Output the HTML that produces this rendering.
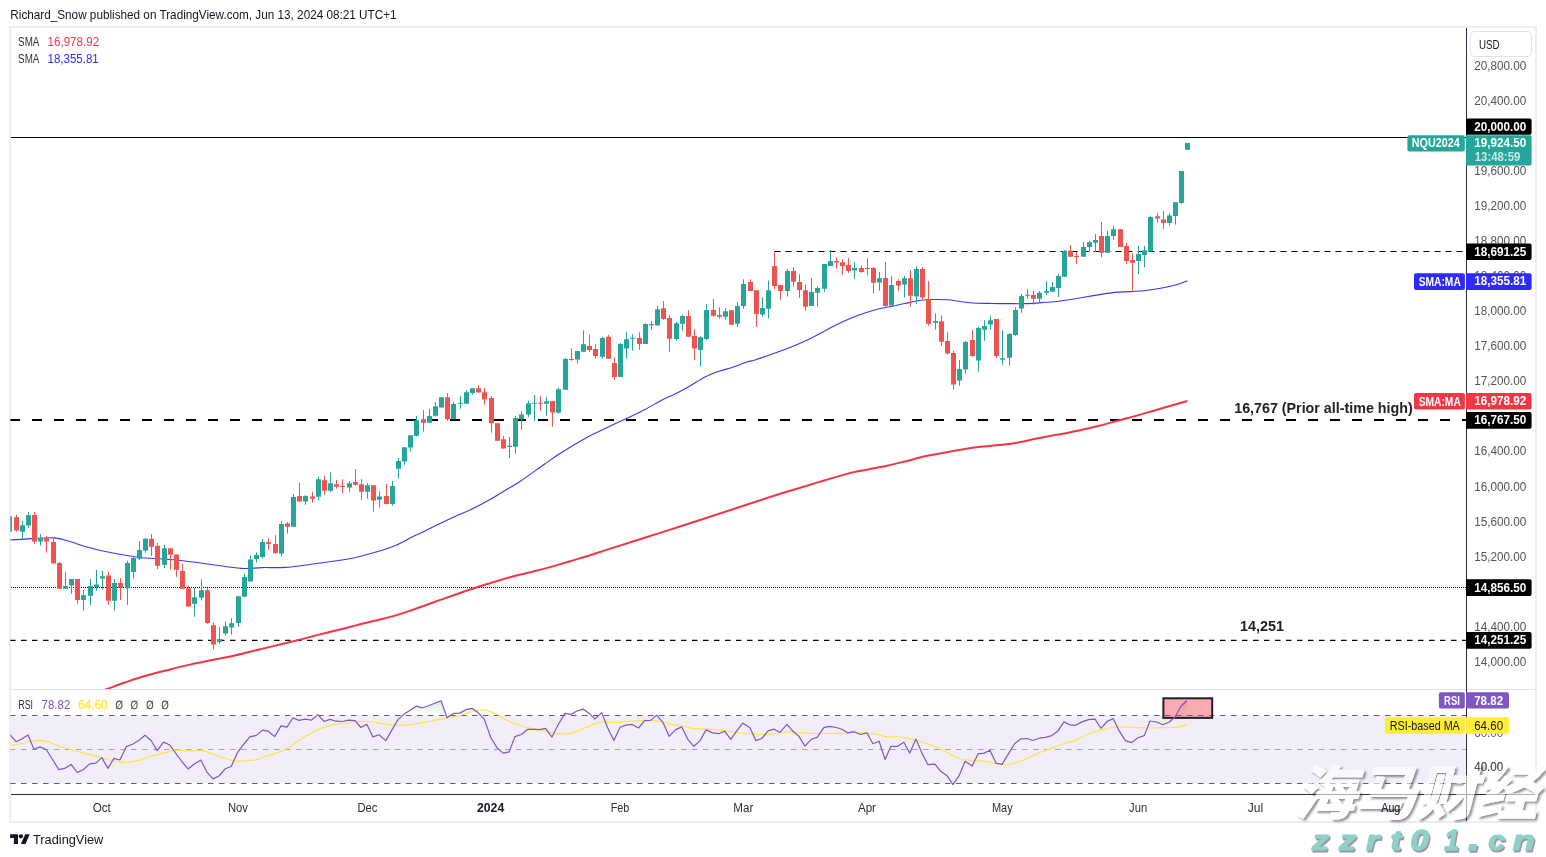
<!DOCTYPE html>
<html><head><meta charset="utf-8"><title>NQ chart</title>
<style>html,body{margin:0;padding:0;background:#fff;}body{width:1546px;height:857px;overflow:hidden;font-family:"Liberation Sans",sans-serif;}</style>
</head><body>
<svg width="1546" height="857" viewBox="0 0 1546 857" font-family="Liberation Sans, sans-serif" style="display:block;will-change:transform;transform:translateZ(0)">
<defs>
<clipPath id="cm"><rect x="10.4" y="28" width="1455.6" height="661"/></clipPath>
<clipPath id="cr"><rect x="10.4" y="690" width="1455.6" height="104"/></clipPath>
<clipPath id="ca"><rect x="1466" y="28" width="69" height="793"/></clipPath>
<linearGradient id="gg" gradientUnits="userSpaceOnUse" x1="0" y1="697" x2="0" y2="715.5"><stop offset="0" stop-color="#4caf50" stop-opacity="0.3"/><stop offset="1" stop-color="#4caf50" stop-opacity="0"/></linearGradient>
<filter id="ws" x="-5%" y="-10%" width="110%" height="120%"><feOffset in="SourceAlpha" dx="1.7" dy="1.7" result="o0"/><feGaussianBlur in="o0" stdDeviation="0.8" result="o"/><feComposite in="o" in2="SourceAlpha" operator="out" result="so"/><feFlood flood-color="#20222b" flood-opacity="0.5"/><feComposite in2="so" operator="in" result="sh"/><feComponentTransfer in="SourceGraphic" result="sg"><feFuncA type="linear" slope="0.6"/></feComponentTransfer><feMerge><feMergeNode in="sh"/><feMergeNode in="sg"/></feMerge></filter>
</defs>
<rect width="1546" height="857" fill="#fff"/>
<text x="10.3" y="18.9" font-size="13" fill="#131722" font-weight="normal" text-anchor="start" textLength="386.3" lengthAdjust="spacingAndGlyphs" >Richard_Snow published on TradingView.com, Jun 13, 2024 08:21 UTC+1</text>
<rect x="10" y="27" width="1526" height="795" fill="#fff" stroke="#eceef4" stroke-width="2"/>
<rect x="11" y="715.4" width="1454.5" height="67.9" fill="#7e57c2" fill-opacity="0.1"/>
<g clip-path="url(#cm)">
<line x1="11" y1="137.5" x2="1466" y2="137.5" stroke="#000" stroke-width="1.2"/>
<line x1="774.5" y1="251.5" x2="1466" y2="251.5" stroke="#000" stroke-width="1" stroke-dasharray="6 5"/>
<line x1="10" y1="420" x2="1466" y2="420" stroke="#000" stroke-width="2.2" stroke-dasharray="10 12"/>
<line x1="11" y1="587.5" x2="1466" y2="587.5" stroke="#000" stroke-width="1" stroke-dasharray="1 1"/>
<line x1="10" y1="640.4" x2="1466" y2="640.4" stroke="#000" stroke-width="1.2" stroke-dasharray="5.5 5.5"/>
<path d="M8.0 540.1C11.8 539.9 23.3 539.0 31.0 538.6C38.7 538.2 47.5 537.4 54.0 537.9C60.5 538.4 64.8 540.1 70.0 541.5C75.2 542.9 79.3 544.9 85.0 546.5C90.7 548.1 97.5 549.9 104.0 551.3C110.5 552.7 118.0 554.0 124.0 555.0C130.0 556.0 133.5 556.8 140.0 557.5C146.5 558.2 155.8 558.5 163.0 559.0C170.2 559.5 176.5 560.0 183.0 560.7C189.5 561.4 195.0 562.2 202.0 563.2C209.0 564.2 218.0 565.6 225.0 566.5C232.0 567.4 237.8 568.3 244.0 568.5C250.2 568.7 255.2 567.8 262.0 567.6C268.8 567.4 276.2 568.0 285.0 567.4C293.8 566.8 305.8 565.0 315.0 563.8C324.2 562.6 333.0 561.4 340.0 560.3C347.0 559.2 350.0 558.9 357.0 557.2C364.0 555.5 375.5 552.3 382.0 550.3C388.5 548.3 391.2 547.4 396.0 545.3C400.8 543.2 406.2 539.9 411.0 537.5C415.8 535.1 420.2 533.3 425.0 531.0C429.8 528.7 434.8 526.0 440.0 523.5C445.2 521.0 450.3 518.6 456.0 516.0C461.7 513.4 468.3 510.8 474.0 508.0C479.7 505.2 484.8 502.4 490.0 499.5C495.2 496.6 500.0 493.5 505.0 490.5C510.0 487.5 513.5 485.8 520.0 481.5C526.5 477.2 537.3 469.2 544.0 464.5C550.7 459.8 553.2 457.8 560.0 453.5C566.8 449.2 578.3 442.2 585.0 438.5C591.7 434.8 593.0 434.4 600.0 431.0C607.0 427.6 619.5 421.8 627.0 418.2C634.5 414.6 639.2 412.5 645.0 409.5C650.8 406.5 657.0 402.6 662.0 400.0C667.0 397.4 670.3 396.3 675.0 394.0C679.7 391.7 685.0 388.8 690.0 386.0C695.0 383.2 700.0 379.5 705.0 377.0C710.0 374.5 715.5 372.6 720.0 371.0C724.5 369.4 727.5 369.0 732.0 367.5C736.5 366.0 743.2 363.2 747.0 362.0C750.8 360.8 750.3 361.5 755.0 360.0C759.7 358.5 769.2 355.1 775.0 353.0C780.8 350.9 784.0 350.0 790.0 347.5C796.0 345.0 803.8 341.7 811.0 338.2C818.2 334.7 826.5 329.8 833.0 326.5C839.5 323.2 844.7 320.8 850.0 318.5C855.3 316.2 860.0 314.7 865.0 313.0C870.0 311.3 875.7 309.6 880.0 308.5C884.3 307.4 886.8 307.3 891.0 306.5C895.2 305.7 900.0 304.5 905.0 303.5C910.0 302.5 916.0 301.0 921.0 300.3C926.0 299.6 930.5 299.6 935.0 299.5C939.5 299.4 943.8 299.5 948.0 299.8C952.2 300.1 956.0 301.0 960.0 301.5C964.0 302.0 967.0 302.7 972.0 303.0C977.0 303.3 984.2 303.3 990.0 303.4C995.8 303.5 1001.0 303.6 1007.0 303.6C1013.0 303.6 1019.7 303.8 1026.0 303.6C1032.3 303.4 1039.8 302.7 1045.0 302.3C1050.2 301.9 1052.5 302.0 1057.0 301.5C1061.5 301.0 1067.3 300.1 1072.0 299.3C1076.7 298.6 1080.3 297.8 1085.0 297.0C1089.7 296.2 1095.0 295.4 1100.0 294.6C1105.0 293.8 1110.0 292.9 1115.0 292.4C1120.0 291.9 1125.2 291.9 1130.0 291.6C1134.8 291.3 1139.7 291.2 1144.0 290.8C1148.3 290.4 1152.2 289.6 1156.0 289.0C1159.8 288.4 1163.3 287.8 1167.0 287.0C1170.7 286.2 1174.6 285.2 1178.0 284.2C1181.4 283.2 1185.9 281.4 1187.5 280.8" stroke="#3a36ff" stroke-width="1.1" fill="none" stroke-linejoin="round"/>
<path d="M100.0 691.5C101.2 691.1 102.8 690.5 107.0 689.0C111.2 687.5 118.8 684.6 125.0 682.5C131.2 680.4 137.3 678.3 144.0 676.3C150.7 674.3 157.3 672.7 165.0 670.7C172.7 668.8 181.7 666.5 190.0 664.6C198.3 662.7 207.2 661.0 215.0 659.4C222.8 657.8 229.5 656.7 237.0 655.0C244.5 653.3 252.8 651.0 260.0 649.3C267.2 647.5 273.3 646.1 280.0 644.5C286.7 642.9 293.7 641.2 300.0 639.6C306.3 638.0 311.3 636.6 318.0 634.9C324.7 633.2 333.5 631.1 340.0 629.5C346.5 627.9 350.7 626.7 357.0 625.1C363.3 623.5 371.5 621.6 378.0 620.0C384.5 618.4 389.8 617.2 396.0 615.4C402.2 613.6 408.5 611.3 415.0 609.0C421.5 606.7 428.3 604.2 435.0 601.8C441.7 599.4 448.5 597.0 455.0 594.7C461.5 592.4 467.7 590.3 474.0 588.2C480.3 586.1 486.7 584.2 493.0 582.3C499.3 580.4 505.5 578.5 512.0 576.7C518.5 575.0 525.5 573.4 532.0 571.8C538.5 570.2 544.7 568.6 551.0 566.9C557.3 565.1 563.5 563.2 570.0 561.3C576.5 559.3 583.7 557.2 590.0 555.2C596.3 553.2 599.7 552.1 608.0 549.4C616.3 546.7 628.0 543.0 640.0 539.2C652.0 535.4 666.7 530.8 680.0 526.5C693.3 522.2 706.5 517.9 720.0 513.5C733.5 509.1 750.8 503.3 761.0 500.0C771.2 496.7 774.2 495.6 781.0 493.5C787.8 491.4 794.7 489.4 802.0 487.2C809.3 485.0 817.3 482.5 825.0 480.2C832.7 477.9 840.8 475.4 848.0 473.6C855.2 471.8 861.5 470.8 868.0 469.5C874.5 468.2 880.7 467.2 887.0 465.8C893.3 464.4 899.5 462.8 906.0 461.2C912.5 459.6 919.2 457.6 926.0 456.1C932.8 454.6 940.0 453.5 947.0 452.2C954.0 450.9 960.8 449.4 968.0 448.4C975.2 447.3 982.8 446.7 990.0 445.9C997.2 445.1 1004.5 444.6 1011.0 443.7C1017.5 442.8 1023.2 441.5 1029.0 440.3C1034.8 439.1 1040.2 437.8 1046.0 436.7C1051.8 435.6 1058.2 434.6 1064.0 433.5C1069.8 432.4 1075.2 431.4 1081.0 430.1C1086.8 428.8 1093.2 427.3 1099.0 425.8C1104.8 424.3 1110.2 422.8 1116.0 421.2C1121.8 419.6 1128.2 418.0 1134.0 416.4C1139.8 414.8 1145.2 413.2 1151.0 411.5C1156.8 409.8 1162.9 408.1 1169.0 406.3C1175.1 404.6 1184.4 401.9 1187.5 401.0" stroke="#f23645" stroke-width="2" fill="none" stroke-linejoin="round"/>
<path d="M9.5 516.2V531.7M22.5 520.9V538.8M28.5 512.1V528.0M40.5 534.0V545.7M65.5 571.9V588.7M71.5 579.0V593.9M83.5 590.0V610.7M90.5 579.0V605.1M96.5 570.0V590.9M102.5 570.9V589.6M114.5 579.0V610.7M127.5 560.7V604.9M133.5 556.0V578.8M139.5 541.1V560.1M145.5 537.9V552.8M164.5 544.8V568.1M194.5 588.3V616.7M201.5 579.4V600.5M219.5 627.2V643.8M225.5 621.4V635.6M231.5 618.2V634.6M238.5 596.2V626.6M244.5 573.4V596.8M250.5 555.3V581.4M256.5 552.3V562.6M262.5 539.2V558.5M281.5 521.1V556.6M293.5 494.2V526.7M305.5 495.1V504.8M318.5 476.8V500.5M330.5 472.1V492.1M349.5 481.1V491.8M367.5 483.0V498.7M379.5 491.2V507.6M392.5 481.1V505.8M398.5 458.1V478.7M404.5 447.3V464.7M410.5 435.2V451.6M416.5 416.1V436.7M429.5 409.0V422.7M435.5 402.1V416.7M441.5 397.2V407.5M453.5 401.9V419.2M460.5 395.9V408.8M466.5 390.1V403.7M472.5 388.2V394.8M509.5 437.0V457.9M515.5 415.9V453.8M521.5 411.2V429.9M528.5 400.9V416.8M534.5 395.0V420.9M546.5 396.8V415.9M558.5 387.9V413.6M565.5 358.0V389.7M577.5 351.1V363.6M583.5 330.3V351.8M602.5 336.8V358.7M620.5 343.0V377.0M626.5 332.1V358.7M632.5 334.4V350.8M645.5 323.2V343.9M651.5 320.9V329.7M657.5 306.0V325.6M676.5 321.9V340.9M682.5 315.0V330.7M700.5 335.9V366.7M706.5 304.1V340.0M725.5 308.2V319.6M737.5 302.3V327.0M743.5 279.3V308.7M762.5 297.1V316.7M768.5 280.3V318.6M787.5 269.1V296.7M811.5 278.0V305.9M817.5 286.3V306.8M824.5 264.0V291.9M830.5 250.0V265.9M854.5 262.2V278.8M879.5 272.0V290.6M891.5 276.1V306.9M904.5 276.1V297.5M916.5 266.2V303.7M935.5 313.4V329.7M959.5 360.1V385.9M965.5 341.0V373.7M978.5 327.0V371.7M984.5 320.3V340.9M990.5 316.2V329.7M1002.5 330.2V364.8M1009.5 333.0V365.7M1015.5 307.3V335.8M1021.5 294.2V312.9M1027.5 288.9V298.8M1039.5 291.0V302.6M1046.5 281.1V295.1M1052.5 282.0V291.7M1058.5 274.0V297.0M1064.5 249.9V276.8M1083.5 241.9V256.8M1089.5 240.9V251.8M1095.5 234.0V252.1M1107.5 231.1V252.7M1113.5 225.6V240.0M1138.5 246.0V274.0M1144.5 246.0V267.1M1150.5 215.7V251.6M1169.5 213.1V225.7M1175.5 202.2V224.7M1181.5 171.1V204.0M1187.5 143.1V149.8" stroke="#26a69a" stroke-width="1" fill="none"/>
<path d="M16.5 514.9V531.7M34.5 512.1V543.9M46.5 536.0V552.8M53.5 537.0V563.5M59.5 562.0V588.7M77.5 579.0V604.0M108.5 571.9V604.9M120.5 578.0V599.9M151.5 534.0V556.0M157.5 542.9V569.1M170.5 548.2V569.7M176.5 554.4V576.8M182.5 563.7V588.7M188.5 585.5V606.6M207.5 588.3V623.8M213.5 622.3V649.6M268.5 538.3V549.7M275.5 535.1V553.8M287.5 522.1V533.6M299.5 482.8V501.6M312.5 492.1V502.6M324.5 475.9V494.9M336.5 480.0V488.6M342.5 479.2V493.1M355.5 469.0V485.8M361.5 479.1V499.8M373.5 485.2V511.7M386.5 483.9V504.4M423.5 410.0V431.6M447.5 393.1V420.9M478.5 385.1V392.5M484.5 387.9V404.7M491.5 395.9V432.7M497.5 423.3V440.7M503.5 436.0V448.6M540.5 395.9V410.7M552.5 400.9V426.7M571.5 348.1V360.8M589.5 334.4V351.8M595.5 344.3V358.7M608.5 334.9V358.7M614.5 357.4V379.8M639.5 332.1V349.9M663.5 301.0V320.0M669.5 315.3V351.8M688.5 310.1V336.8M694.5 329.3V359.8M713.5 299.1V316.8M719.5 307.3V318.7M731.5 310.2V324.7M750.5 279.3V290.9M756.5 290.2V327.0M774.5 251.3V289.1M780.5 284.9V299.9M793.5 267.2V286.8M799.5 274.1V298.0M805.5 284.4V310.7M836.5 257.3V268.7M842.5 259.2V274.7M848.5 258.2V272.8M861.5 265.3V272.8M867.5 258.2V275.6M873.5 266.8V293.7M885.5 262.1V306.5M898.5 279.2V290.6M910.5 270.1V306.5M922.5 267.1V299.4M928.5 281.1V325.9M941.5 315.3V345.7M947.5 332.1V354.5M953.5 350.8V389.6M972.5 330.2V356.9M996.5 319.0V357.8M1033.5 291.0V304.8M1070.5 245.1V256.8M1076.5 252.1V263.9M1101.5 221.9V257.2M1120.5 229.2V246.9M1126.5 242.8V263.9M1132.5 253.1V291.0M1157.5 212.8V222.6M1163.5 211.0V228.9" stroke="#ef5350" stroke-width="1" fill="none"/>
<path d="M7.0 516.2h5V531.7h-5zM20.0 525.2h5V531.7h-5zM26.0 515.3h5V525.6h-5zM38.0 538.3h5V541.4h-5zM63.0 585.9h5V588.7h-5zM69.0 579.0h5V585.5h-5zM81.0 595.2h5V599.9h-5zM88.0 585.9h5V595.8h-5zM94.0 584.4h5V587.0h-5zM100.0 576.2h5V578.6h-5zM112.0 583.1h5V600.8h-5zM125.0 563.1h5V588.3h-5zM131.0 557.9h5V571.9h-5zM137.0 550.0h5V558.8h-5zM143.0 538.8h5V550.4h-5zM162.0 548.2h5V564.8h-5zM192.0 597.3h5V603.7h-5zM199.0 590.2h5V597.7h-5zM217.0 639.1h5V642.1h-5zM223.0 626.2h5V633.5h-5zM229.0 623.3h5V627.6h-5zM236.0 596.2h5V622.9h-5zM242.0 577.1h5V596.8h-5zM248.0 559.4h5V581.4h-5zM254.0 555.1h5V558.9h-5zM260.0 542.0h5V557.0h-5zM279.0 523.9h5V553.4h-5zM291.0 497.0h5V526.7h-5zM303.0 496.0h5V501.6h-5zM316.0 479.2h5V496.8h-5zM328.0 483.3h5V490.8h-5zM347.0 483.3h5V487.6h-5zM365.0 485.2h5V491.8h-5zM377.0 496.4h5V499.8h-5zM390.0 486.1h5V503.9h-5zM396.0 460.9h5V468.8h-5zM402.0 447.3h5V461.5h-5zM408.0 435.2h5V447.5h-5zM414.0 420.2h5V435.7h-5zM427.0 416.1h5V422.7h-5zM433.0 406.2h5V415.8h-5zM439.0 397.2h5V407.5h-5zM451.0 404.1h5V419.2h-5zM458.0 402.8h5V403.8h-5zM464.0 392.2h5V403.7h-5zM470.0 388.2h5V392.9h-5zM507.0 445.8h5V446.9h-5zM513.0 418.1h5V446.7h-5zM519.0 414.4h5V419.2h-5zM526.0 403.2h5V414.6h-5zM532.0 402.8h5V403.8h-5zM544.0 401.3h5V403.7h-5zM556.0 389.2h5V412.7h-5zM563.0 358.9h5V389.7h-5zM575.0 351.1h5V359.5h-5zM581.0 344.3h5V351.8h-5zM600.0 338.1h5V356.8h-5zM618.0 343.9h5V377.0h-5zM624.0 339.2h5V348.6h-5zM630.0 337.7h5V338.7h-5zM643.0 324.1h5V343.9h-5zM649.0 324.1h5V325.2h-5zM655.0 309.2h5V325.6h-5zM674.0 323.2h5V339.1h-5zM680.0 315.9h5V323.7h-5zM698.0 337.2h5V349.9h-5zM704.0 310.1h5V339.1h-5zM723.0 311.2h5V316.8h-5zM735.0 306.0h5V323.8h-5zM741.0 284.0h5V306.0h-5zM760.0 307.9h5V314.4h-5zM766.0 290.2h5V308.7h-5zM785.0 270.9h5V290.9h-5zM809.0 292.0h5V305.9h-5zM815.0 288.1h5V292.8h-5zM822.0 264.0h5V288.7h-5zM828.0 261.1h5V265.9h-5zM852.0 268.1h5V270.6h-5zM877.0 278.3h5V282.6h-5zM889.0 285.0h5V305.6h-5zM902.0 278.3h5V284.5h-5zM914.0 269.0h5V296.6h-5zM933.0 320.9h5V322.7h-5zM957.0 369.0h5V380.6h-5zM963.0 342.0h5V369.4h-5zM976.0 328.0h5V360.5h-5zM982.0 326.1h5V329.7h-5zM988.0 320.3h5V324.6h-5zM1000.0 358.2h5V359.7h-5zM1007.0 333.9h5V357.7h-5zM1013.0 310.1h5V334.9h-5zM1019.0 296.1h5V308.4h-5zM1025.0 294.7h5V295.7h-5zM1037.0 292.8h5V298.8h-5zM1044.0 291.0h5V292.8h-5zM1050.0 287.1h5V291.7h-5zM1056.0 276.0h5V288.0h-5zM1062.0 250.8h5V276.8h-5zM1081.0 246.9h5V256.8h-5zM1087.0 242.3h5V246.9h-5zM1093.0 240.0h5V242.8h-5zM1105.0 235.9h5V252.7h-5zM1111.0 229.2h5V235.9h-5zM1136.0 254.0h5V260.9h-5zM1142.0 250.3h5V254.9h-5zM1148.0 217.0h5V251.6h-5zM1167.0 215.5h5V222.9h-5zM1173.0 202.2h5V215.9h-5zM1179.0 171.1h5V202.9h-5zM1185.0 143.1h5V149.8h-5z" fill="#26a69a"/>
<path d="M14.0 517.2h5V530.4h-5zM32.0 514.9h5V541.4h-5zM44.0 538.3h5V541.4h-5zM51.0 542.0h5V563.5h-5zM57.0 563.1h5V588.7h-5zM75.0 579.0h5V599.9h-5zM106.0 575.6h5V600.8h-5zM118.0 583.1h5V587.7h-5zM149.0 538.8h5V546.7h-5zM155.0 545.7h5V565.7h-5zM168.0 548.2h5V554.7h-5zM174.0 554.4h5V569.7h-5zM180.0 571.0h5V588.7h-5zM186.0 588.3h5V606.6h-5zM205.0 590.2h5V622.9h-5zM211.0 625.3h5V644.4h-5zM266.0 542.2h5V543.9h-5zM273.0 544.1h5V552.9h-5zM285.0 523.4h5V526.7h-5zM297.0 496.0h5V501.6h-5zM310.0 496.4h5V498.7h-5zM322.0 480.2h5V490.8h-5zM334.0 484.3h5V486.7h-5zM340.0 486.0h5V487.0h-5zM353.0 482.0h5V484.8h-5zM359.0 484.3h5V491.8h-5zM371.0 485.2h5V500.5h-5zM384.0 496.0h5V503.9h-5zM421.0 419.3h5V422.7h-5zM445.0 397.2h5V419.2h-5zM476.0 388.2h5V392.5h-5zM482.0 392.2h5V399.5h-5zM489.0 398.1h5V423.3h-5zM495.0 423.3h5V440.7h-5zM501.0 439.2h5V448.6h-5zM538.0 402.8h5V403.8h-5zM550.0 400.9h5V412.5h-5zM569.0 358.9h5V359.9h-5zM587.0 346.1h5V349.9h-5zM593.0 348.9h5V355.9h-5zM606.0 336.8h5V358.7h-5zM612.0 363.0h5V377.0h-5zM637.0 338.1h5V343.9h-5zM661.0 308.2h5V319.1h-5zM667.0 318.1h5V338.7h-5zM686.0 315.9h5V336.8h-5zM692.0 335.9h5V348.6h-5zM711.0 310.1h5V315.7h-5zM717.0 315.0h5V316.8h-5zM729.0 310.2h5V324.7h-5zM748.0 282.1h5V290.9h-5zM754.0 290.2h5V313.9h-5zM772.0 265.9h5V285.9h-5zM778.0 284.9h5V290.9h-5zM791.0 270.9h5V281.8h-5zM797.0 282.1h5V290.0h-5zM803.0 290.2h5V306.8h-5zM834.0 261.1h5V262.5h-5zM840.0 262.2h5V265.9h-5zM846.0 265.0h5V270.9h-5zM859.0 268.1h5V271.9h-5zM865.0 268.1h5V269.1h-5zM871.0 268.1h5V282.7h-5zM883.0 277.9h5V305.9h-5zM896.0 281.1h5V285.4h-5zM908.0 278.3h5V295.7h-5zM920.0 269.0h5V297.5h-5zM926.0 299.0h5V323.7h-5zM939.0 321.3h5V341.8h-5zM945.0 341.0h5V353.6h-5zM951.0 353.0h5V384.4h-5zM970.0 340.1h5V356.0h-5zM994.0 319.0h5V356.0h-5zM1031.0 295.1h5V298.8h-5zM1068.0 250.8h5V256.8h-5zM1074.0 255.9h5V256.9h-5zM1099.0 235.9h5V252.7h-5zM1118.0 229.2h5V246.9h-5zM1124.0 246.0h5V260.9h-5zM1130.0 260.0h5V262.8h-5zM1155.0 216.2h5V218.4h-5zM1161.0 219.4h5V222.9h-5z" fill="#ef5350"/>
<text x="18.1" y="45.9" font-size="12" fill="#2a2e39" font-weight="normal" text-anchor="start" textLength="21.3" lengthAdjust="spacingAndGlyphs" >SMA</text>
<text x="47.5" y="45.9" font-size="12" fill="#f23645" font-weight="normal" text-anchor="start" textLength="51.7" lengthAdjust="spacingAndGlyphs" >16,978.92</text>
<text x="18.1" y="62.9" font-size="12" fill="#2a2e39" font-weight="normal" text-anchor="start" textLength="21.3" lengthAdjust="spacingAndGlyphs" >SMA</text>
<text x="47.5" y="62.9" font-size="12" fill="#2f2cff" font-weight="normal" text-anchor="start" textLength="51.2" lengthAdjust="spacingAndGlyphs" >18,355.81</text>
<text x="1234.2" y="413.0" font-size="14" fill="#222" font-weight="bold" text-anchor="start" textLength="178.5" lengthAdjust="spacingAndGlyphs" >16,767 (Prior all-time high)</text>
<text x="1240.0" y="631.0" font-size="14" fill="#222" font-weight="bold" text-anchor="start" textLength="44.0" lengthAdjust="spacingAndGlyphs" >14,251</text>
</g>
<rect x="1407.4" y="135.2" width="57.4" height="16.4" rx="2" fill="#26a69a"/>
<text x="1411.8" y="147.2" font-size="12" fill="#fff" font-weight="bold" text-anchor="start" textLength="48.0" lengthAdjust="spacingAndGlyphs" >NQU2024</text>
<rect x="1414.0" y="273.2" width="50.9" height="16.7" rx="2" fill="#2f2aff"/>
<text x="1418.7" y="285.9" font-size="12" fill="#fff" font-weight="bold" text-anchor="start" textLength="42.1" lengthAdjust="spacingAndGlyphs" >SMA:MA</text>
<rect x="1414.0" y="393.1" width="50.9" height="16.4" rx="2" fill="#f23645"/>
<text x="1418.7" y="405.6" font-size="12" fill="#fff" font-weight="bold" text-anchor="start" textLength="42.1" lengthAdjust="spacingAndGlyphs" >SMA:MA</text>
<g clip-path="url(#cr)">
<line x1="10" y1="715.5" x2="1466" y2="715.5" stroke="#5d606b" stroke-width="1" stroke-dasharray="5.5 5.5"/>
<line x1="10" y1="749.5" x2="1466" y2="749.5" stroke="#a3a6af" stroke-width="1" stroke-dasharray="5.5 5.5"/>
<line x1="10" y1="783.5" x2="1466" y2="783.5" stroke="#5d606b" stroke-width="1" stroke-dasharray="5.5 5.5"/>
<path d="M317.0 715.4L317.9 714.6L318.6 715.4Z" fill="url(#gg)"/>
<path d="M402.7 715.4L403.6 714.6L410.1 710.2L416.1 706.2L422.5 707.8L428.4 705.8L434.8 703.3L441.1 700.8L446.1 715.4Z" fill="url(#gg)"/>
<path d="M450.4 715.4L453.3 713.4L459.7 713.1L465.9 709.7L471.9 708.3L478.0 712.6L480.6 715.4Z" fill="url(#gg)"/>
<path d="M563.7 715.4L564.9 713.4L571.0 714.3L577.0 711.0L583.1 709.1L589.3 713.4L591.2 715.4Z" fill="url(#gg)"/>
<path d="M598.8 715.4L601.7 712.6L602.8 715.4Z" fill="url(#gg)"/>
<path d="M656.3 715.4L656.7 715.1L657.0 715.4Z" fill="url(#gg)"/>
<path d="M1175.9 715.4L1181.0 706.2L1186.8 700.5L1186.8 715.4Z" fill="url(#gg)"/>
<rect x="1163.4" y="698.3" width="48.8" height="19.6" fill="#f23645" fill-opacity="0.42" stroke="#1e222d" stroke-width="2"/>
<path d="M8.0 745.8C8.3 745.7 7.2 745.9 9.6 745.5C12.0 745.1 19.3 744.0 22.6 743.4C25.8 742.7 26.3 742.2 29.0 741.7C31.7 741.3 35.8 740.6 38.7 740.6C41.7 740.6 43.8 741.0 46.8 741.7C49.8 742.5 53.3 743.9 56.5 745.0C59.7 746.1 63.0 747.2 66.2 748.2C69.4 749.2 72.1 750.1 75.9 751.1C79.7 752.1 84.5 753.2 88.9 754.4C93.2 755.5 98.0 756.9 101.8 757.9C105.6 759.0 108.3 759.9 111.5 760.7C114.7 761.4 118.0 762.1 121.2 762.3C124.4 762.5 127.7 762.4 130.9 762.0C134.1 761.6 137.4 760.8 140.6 759.9C143.8 758.9 147.3 757.2 150.3 756.3C153.3 755.4 155.2 755.2 158.4 754.4C161.6 753.6 166.5 752.1 169.7 751.4C172.9 750.7 174.8 750.2 177.8 750.2C180.8 750.1 184.0 751.0 187.5 751.1C191.0 751.2 195.6 750.5 198.8 750.6C202.0 750.7 203.7 750.9 206.9 751.8C210.1 752.7 214.2 754.5 218.2 756.0C222.3 757.4 227.7 759.5 231.2 760.3C234.7 761.2 236.0 761.2 239.2 761.2C242.5 761.2 247.4 760.6 250.6 760.3C253.7 760.1 257.0 759.7 258.0 759.5C259.0 759.4 255.1 760.1 256.5 759.5C257.8 759.0 262.9 757.4 266.2 756.3C269.4 755.2 272.4 754.4 275.9 753.1C279.4 751.8 283.7 750.4 287.2 748.5C290.7 746.7 293.9 743.7 296.9 741.7C299.9 739.8 302.6 738.0 305.0 736.6C307.4 735.2 309.3 734.5 311.4 733.3C313.6 732.2 315.8 730.6 317.9 729.6C320.1 728.6 322.2 727.9 324.4 727.2C326.5 726.5 328.2 725.9 330.9 725.3C333.5 724.6 337.3 724.0 340.6 723.5C343.8 723.0 347.0 722.7 350.3 722.3C353.5 722.0 356.7 721.5 360.0 721.4C363.2 721.2 366.4 721.2 369.7 721.5C372.9 721.8 376.4 722.7 379.4 723.2C382.3 723.6 384.8 724.1 387.5 724.4C390.1 724.8 392.8 725.1 395.5 725.3C398.2 725.4 400.9 725.4 403.6 725.3C406.3 725.1 408.7 724.7 411.7 724.3C414.7 723.9 418.2 723.4 421.4 722.8C424.6 722.3 427.9 721.7 431.1 721.0C434.3 720.4 437.6 719.7 440.8 719.1C444.0 718.5 447.3 718.1 450.5 717.5C453.8 716.9 457.3 716.4 460.2 715.5C463.2 714.7 465.6 713.5 468.3 712.6C471.0 711.8 474.0 710.9 476.4 710.5C478.8 710.1 480.7 710.1 482.9 710.2C485.0 710.3 487.2 710.8 489.3 711.3C491.5 711.9 494.0 713.0 495.8 713.8C497.6 714.5 499.1 715.3 500.0 715.9C500.9 716.5 499.9 716.5 501.5 717.5C503.1 718.4 506.9 720.3 509.6 721.5C512.2 722.7 514.7 723.8 517.6 724.8C520.6 725.8 524.1 726.8 527.3 727.5C530.6 728.3 533.8 728.7 537.0 729.3C540.3 729.9 543.8 730.6 546.7 731.2C549.7 731.9 552.1 732.9 554.8 733.3C557.5 733.8 560.2 734.0 562.9 734.0C565.6 734.0 568.3 733.9 571.0 733.3C573.7 732.7 576.4 731.5 579.1 730.4C581.8 729.3 584.5 728.0 587.2 726.9C589.9 725.7 592.6 724.5 595.3 723.6C598.0 722.8 600.1 722.1 603.3 721.9C606.6 721.6 611.2 722.3 614.7 722.3C618.2 722.3 621.1 722.0 624.4 721.9C627.6 721.7 630.6 721.5 634.1 721.2C637.6 720.9 641.6 720.3 645.4 720.2C649.2 720.2 653.7 720.7 656.7 721.0C659.7 721.4 660.8 721.8 663.2 722.3C665.6 722.9 668.3 723.7 671.3 724.3C674.2 724.8 677.5 724.9 681.0 725.6C684.5 726.2 688.5 727.8 692.3 728.3C696.1 728.9 699.8 728.6 703.6 728.8C707.4 729.0 711.1 729.3 714.9 729.6C718.7 730.0 722.5 730.4 726.2 730.9C730.0 731.4 734.4 732.1 737.6 732.5C740.7 732.9 743.0 733.2 745.0 733.3C747.0 733.5 747.3 733.1 749.7 733.3C752.1 733.5 756.2 734.3 759.4 734.5C762.6 734.7 765.9 734.7 769.1 734.5C772.3 734.2 775.6 733.3 778.8 732.9C782.0 732.4 785.3 731.8 788.5 731.7C791.7 731.6 794.7 732.1 798.2 732.4C801.7 732.6 805.8 733.2 809.5 733.3C813.3 733.5 816.3 733.3 820.9 733.3C825.4 733.3 832.4 733.5 837.0 733.3C841.6 733.2 844.6 732.5 848.3 732.4C852.1 732.2 856.2 732.2 859.7 732.4C863.2 732.5 866.4 733.0 869.4 733.3C872.3 733.7 874.8 733.9 877.5 734.5C880.1 735.0 882.6 736.2 885.5 736.6C888.5 737.0 892.0 736.7 895.2 736.9C898.5 737.1 902.0 737.2 904.9 737.7C907.9 738.2 910.3 739.0 913.0 739.6C915.7 740.3 918.1 740.9 921.1 741.7C924.1 742.6 927.9 743.9 930.8 745.0C933.8 746.1 936.2 747.0 938.9 748.2C941.6 749.4 944.6 751.0 947.0 752.3C949.4 753.6 951.0 754.8 953.5 756.0C955.9 757.1 958.8 758.3 961.5 759.0C964.2 759.8 966.7 760.0 969.6 760.3C972.6 760.6 975.9 760.6 979.3 760.8C982.7 761.1 987.7 761.6 990.0 762.0C992.3 762.3 991.2 762.7 993.1 763.1C994.9 763.5 998.5 764.2 1001.2 764.4C1003.9 764.6 1006.6 764.7 1009.3 764.4C1012.0 764.0 1014.6 763.1 1017.3 762.3C1020.0 761.4 1022.7 760.3 1025.4 759.2C1028.1 758.1 1030.8 756.7 1033.5 755.5C1036.2 754.3 1038.9 752.9 1041.6 751.8C1044.3 750.7 1047.0 750.0 1049.7 749.0C1052.4 748.0 1055.1 746.8 1057.8 745.8C1060.5 744.8 1062.9 744.0 1065.9 743.0C1068.8 742.1 1072.3 741.4 1075.6 740.1C1078.8 738.8 1082.0 736.8 1085.3 735.3C1088.5 733.8 1091.7 732.2 1095.0 731.2C1098.2 730.2 1101.7 729.9 1104.7 729.3C1107.6 728.7 1110.1 727.9 1112.7 727.5C1115.4 727.1 1117.9 726.9 1120.8 726.9C1123.8 726.8 1127.3 727.1 1130.5 727.2C1133.8 727.3 1137.0 727.5 1140.2 727.7C1143.5 727.8 1146.2 728.0 1149.9 728.0C1153.7 728.0 1158.6 727.8 1162.9 727.7C1167.2 727.6 1172.6 727.8 1175.8 727.5C1179.0 727.2 1180.5 726.4 1182.3 725.9C1184.1 725.4 1186.1 724.7 1186.8 724.4" stroke="#fbe548" stroke-width="1.2" fill="none" stroke-linejoin="round"/>
<path d="M8.0 732.4L9.6 734.5L16.1 741.7L22.2 738.8L28.1 735.0L33.9 749.3L40.0 746.9L46.2 749.5L52.5 759.5L58.8 769.6L64.6 768.4L71.1 764.4L77.2 772.5L83.2 769.7L89.7 763.9L95.8 763.1L101.8 757.6L107.9 768.4L113.9 758.4L119.9 760.0L126.4 746.6L132.5 744.2L138.7 740.6L145.0 735.3L151.1 740.5L157.1 750.6L163.6 742.1L169.7 745.0L176.2 753.9L182.2 762.0L188.0 768.9L194.3 764.1L200.8 759.9L206.9 772.1L213.0 778.9L219.0 776.0L225.2 768.8L231.2 766.5L237.6 752.3L243.8 744.2L249.8 736.9L255.4 735.6L256.1 735.6L262.5 730.1L268.3 731.2L274.7 736.6L281.0 725.9L286.9 727.2L292.9 718.0L299.0 720.4L305.0 719.1L311.4 720.2L317.9 714.6L324.1 721.5L330.0 719.4L336.0 721.2L342.2 721.5L348.6 720.2L355.1 720.7L360.8 727.5L366.9 724.4L372.9 736.9L379.0 734.8L385.8 740.6L391.8 730.1L398.0 719.6L403.6 714.6L410.1 710.2L416.1 706.2L422.5 707.8L428.4 705.8L434.8 703.3L441.1 700.8L447.0 717.8L453.3 713.4L459.7 713.1L465.9 709.7L471.9 708.3L478.0 712.6L484.2 719.1L490.9 737.7L497.1 747.9L503.1 753.1L509.2 751.9L514.9 736.6L521.4 734.5L527.8 729.3L533.8 729.3L539.5 729.6L545.6 728.3L551.9 737.2L558.1 724.8L564.9 713.4L571.0 714.3L577.0 711.0L583.1 709.1L589.3 713.4L594.9 719.1L601.7 712.6L607.7 728.0L613.9 740.5L620.0 727.2L626.0 725.1L632.1 724.4L638.6 728.0L644.6 720.7L650.6 720.4L656.7 715.1L662.9 722.3L669.2 736.4L675.6 729.6L681.8 726.9L687.8 739.3L693.9 746.3L700.0 740.9L706.0 729.9L712.5 732.9L718.6 733.7L724.6 731.2L730.8 739.3L737.1 730.4L742.9 723.2L750.0 727.7L755.8 740.6L761.8 738.5L768.0 730.8L774.0 729.1L779.9 732.4L786.9 724.4L792.9 731.2L799.0 736.4L805.0 746.1L811.2 739.3L817.1 737.4L823.8 727.7L829.7 726.4L836.2 727.5L841.9 729.3L848.0 732.9L854.0 731.7L860.5 734.5L866.9 732.9L872.9 743.7L879.1 741.3L885.1 759.5L890.9 746.3L897.7 746.3L903.8 742.2L909.8 753.1L915.9 739.0L921.9 753.1L927.9 764.7L934.9 764.1L940.8 771.3L947.0 775.7L953.0 784.6L959.1 775.7L965.1 761.2L972.1 766.0L978.0 753.9L984.2 753.1L989.9 750.2L996.0 763.1L1002.0 764.4L1008.4 753.9L1014.6 743.8L1020.9 738.8L1027.0 738.5L1032.7 740.5L1039.2 738.2L1045.6 737.4L1051.8 735.6L1058.1 730.9L1063.9 721.9L1069.9 724.8L1075.6 725.3L1082.0 721.9L1088.5 719.6L1095.0 719.1L1100.9 728.3L1107.1 721.5L1113.1 718.6L1119.2 730.9L1125.4 740.6L1131.7 742.6L1137.8 737.7L1144.3 735.6L1149.9 721.0L1156.7 722.0L1162.9 724.8L1169.0 722.3L1175.0 717.0L1181.0 706.2L1186.8 700.5" stroke="#7e57c2" stroke-width="1.2" fill="none" stroke-linejoin="round"/>
<text x="18.5" y="709.0" font-size="12" fill="#2a2e39" font-weight="normal" text-anchor="start" textLength="14.5" lengthAdjust="spacingAndGlyphs" >RSI</text>
<text x="41.6" y="709.0" font-size="12" fill="#7e57c2" font-weight="normal" text-anchor="start" textLength="28.7" lengthAdjust="spacingAndGlyphs" >78.82</text>
<text x="78.3" y="709.0" font-size="12" fill="#ffe838" font-weight="normal" text-anchor="start" textLength="29.2" lengthAdjust="spacingAndGlyphs" stroke="#ffe838" stroke-width="0.35">64.60</text>
<g stroke="#50535e" fill="none"><ellipse cx="119.2" cy="704.9" rx="2.8" ry="3.8" stroke-width="1.1"/><path d="M115.9 709.2L122.5 700.6" stroke-width="0.8"/></g>
<g stroke="#50535e" fill="none"><ellipse cx="134.3" cy="704.9" rx="2.8" ry="3.8" stroke-width="1.1"/><path d="M131.0 709.2L137.60000000000002 700.6" stroke-width="0.8"/></g>
<g stroke="#50535e" fill="none"><ellipse cx="149.9" cy="704.9" rx="2.8" ry="3.8" stroke-width="1.1"/><path d="M146.6 709.2L153.20000000000002 700.6" stroke-width="0.8"/></g>
<g stroke="#50535e" fill="none"><ellipse cx="165.0" cy="704.9" rx="2.8" ry="3.8" stroke-width="1.1"/><path d="M161.7 709.2L168.3 700.6" stroke-width="0.8"/></g>
</g>
<rect x="1438.9" y="692.2" width="25.9" height="16.4" rx="2" fill="#7e57c2"/>
<text x="1444.1" y="704.7" font-size="12" fill="#fff" font-weight="bold" text-anchor="start" textLength="15.8" lengthAdjust="spacingAndGlyphs" >RSI</text>
<rect x="1384.9" y="717.3" width="79.9" height="16.5" rx="2" fill="#ffeb3b"/>
<text x="1389.8" y="729.9" font-size="12" fill="#131722" font-weight="normal" text-anchor="start" textLength="70.0" lengthAdjust="spacingAndGlyphs" >RSI-based MA</text>
<line x1="11" y1="689.5" x2="1535" y2="689.5" stroke="#e0e3eb" stroke-width="1"/>
<line x1="1466.5" y1="28" x2="1466.5" y2="821" stroke="#2a2e39" stroke-width="1"/>
<line x1="11" y1="794.5" x2="1535" y2="794.5" stroke="#2a2e39" stroke-width="1"/>
<g clip-path="url(#ca)">
<rect x="1470.4" y="31.5" width="61.2" height="25" rx="4" fill="#fff" stroke="#e0e3eb" stroke-width="1"/>
<text x="1479.0" y="48.6" font-size="12" fill="#131722" font-weight="normal" text-anchor="start" textLength="20.6" lengthAdjust="spacingAndGlyphs" >USD</text>
<text x="1474.2" y="70.0" font-size="12" fill="#50535e" font-weight="normal" text-anchor="start" textLength="52.2" lengthAdjust="spacingAndGlyphs" >20,800.00</text>
<text x="1474.2" y="105.0" font-size="12" fill="#50535e" font-weight="normal" text-anchor="start" textLength="52.2" lengthAdjust="spacingAndGlyphs" >20,400.00</text>
<text x="1474.2" y="175.1" font-size="12" fill="#50535e" font-weight="normal" text-anchor="start" textLength="52.2" lengthAdjust="spacingAndGlyphs" >19,600.00</text>
<text x="1474.2" y="210.2" font-size="12" fill="#50535e" font-weight="normal" text-anchor="start" textLength="52.2" lengthAdjust="spacingAndGlyphs" >19,200.00</text>
<text x="1474.2" y="245.2" font-size="12" fill="#50535e" font-weight="normal" text-anchor="start" textLength="52.2" lengthAdjust="spacingAndGlyphs" >18,800.00</text>
<text x="1474.2" y="280.2" font-size="12" fill="#50535e" font-weight="normal" text-anchor="start" textLength="52.2" lengthAdjust="spacingAndGlyphs" >18,400.00</text>
<text x="1474.2" y="315.3" font-size="12" fill="#50535e" font-weight="normal" text-anchor="start" textLength="52.2" lengthAdjust="spacingAndGlyphs" >18,000.00</text>
<text x="1474.2" y="350.3" font-size="12" fill="#50535e" font-weight="normal" text-anchor="start" textLength="52.2" lengthAdjust="spacingAndGlyphs" >17,600.00</text>
<text x="1474.2" y="385.4" font-size="12" fill="#50535e" font-weight="normal" text-anchor="start" textLength="52.2" lengthAdjust="spacingAndGlyphs" >17,200.00</text>
<text x="1474.2" y="455.4" font-size="12" fill="#50535e" font-weight="normal" text-anchor="start" textLength="52.2" lengthAdjust="spacingAndGlyphs" >16,400.00</text>
<text x="1474.2" y="490.5" font-size="12" fill="#50535e" font-weight="normal" text-anchor="start" textLength="52.2" lengthAdjust="spacingAndGlyphs" >16,000.00</text>
<text x="1474.2" y="525.5" font-size="12" fill="#50535e" font-weight="normal" text-anchor="start" textLength="52.2" lengthAdjust="spacingAndGlyphs" >15,600.00</text>
<text x="1474.2" y="560.6" font-size="12" fill="#50535e" font-weight="normal" text-anchor="start" textLength="52.2" lengthAdjust="spacingAndGlyphs" >15,200.00</text>
<text x="1474.2" y="630.6" font-size="12" fill="#50535e" font-weight="normal" text-anchor="start" textLength="52.2" lengthAdjust="spacingAndGlyphs" >14,400.00</text>
<text x="1474.2" y="665.7" font-size="12" fill="#50535e" font-weight="normal" text-anchor="start" textLength="52.2" lengthAdjust="spacingAndGlyphs" >14,000.00</text>
<text x="1474.2" y="736.9" font-size="12" fill="#50535e" font-weight="normal" text-anchor="start" textLength="29.0" lengthAdjust="spacingAndGlyphs" >60.00</text>
<text x="1474.2" y="770.8" font-size="12" fill="#50535e" font-weight="normal" text-anchor="start" textLength="29.0" lengthAdjust="spacingAndGlyphs" >40.00</text>
<path d="M1466 118.4H1529.6a2 2 0 0 1 2 2V132.8a2 2 0 0 1 -2 2H1466Z" fill="#000"/>
<text x="1474.2" y="130.5" font-size="12" fill="#fff" font-weight="bold" text-anchor="start" textLength="52.2" lengthAdjust="spacingAndGlyphs" >20,000.00</text>
<path d="M1466 135.2H1529.6a2 2 0 0 1 2 2V163.6a2 2 0 0 1 -2 2H1466Z" fill="#26a69a"/>
<text x="1474.2" y="147.2" font-size="12" fill="#fff" font-weight="bold" text-anchor="start" textLength="52.2" lengthAdjust="spacingAndGlyphs" >19,924.50</text>
<text x="1474.8" y="160.7" font-size="12" fill="#fff" font-weight="bold" text-anchor="start" textLength="45.5" lengthAdjust="spacingAndGlyphs" fill-opacity="0.75">13:48:59</text>
<path d="M1466 243.5H1529.6a2 2 0 0 1 2 2V257.9a2 2 0 0 1 -2 2H1466Z" fill="#000"/>
<text x="1474.2" y="255.6" font-size="12" fill="#fff" font-weight="bold" text-anchor="start" textLength="52.2" lengthAdjust="spacingAndGlyphs" >18,691.25</text>
<path d="M1466 273.2H1529.6a2 2 0 0 1 2 2V287.9a2 2 0 0 1 -2 2H1466Z" fill="#2f2aff"/>
<text x="1474.2" y="285.4" font-size="12" fill="#fff" font-weight="bold" text-anchor="start" textLength="52.2" lengthAdjust="spacingAndGlyphs" >18,355.81</text>
<path d="M1466 393.1H1529.6a2 2 0 0 1 2 2V407.5a2 2 0 0 1 -2 2H1466Z" fill="#f23645"/>
<text x="1474.2" y="405.2" font-size="12" fill="#fff" font-weight="bold" text-anchor="start" textLength="52.2" lengthAdjust="spacingAndGlyphs" >16,978.92</text>
<path d="M1466 412.0H1529.6a2 2 0 0 1 2 2V426.7a2 2 0 0 1 -2 2H1466Z" fill="#000"/>
<text x="1474.2" y="424.2" font-size="12" fill="#fff" font-weight="bold" text-anchor="start" textLength="52.2" lengthAdjust="spacingAndGlyphs" >16,767.50</text>
<path d="M1466 579.3H1529.6a2 2 0 0 1 2 2V593.9a2 2 0 0 1 -2 2H1466Z" fill="#000"/>
<text x="1474.2" y="591.5" font-size="12" fill="#fff" font-weight="bold" text-anchor="start" textLength="52.2" lengthAdjust="spacingAndGlyphs" >14,856.50</text>
<path d="M1466 632.1H1529.6a2 2 0 0 1 2 2V646.7a2 2 0 0 1 -2 2H1466Z" fill="#000"/>
<text x="1474.2" y="644.3" font-size="12" fill="#fff" font-weight="bold" text-anchor="start" textLength="52.2" lengthAdjust="spacingAndGlyphs" >14,251.25</text>
<path d="M1466 692.2H1507.0a2 2 0 0 1 2 2V706.6a2 2 0 0 1 -2 2H1466Z" fill="#7e57c2"/>
<text x="1474.2" y="704.7" font-size="12" fill="#fff" font-weight="bold" text-anchor="start" textLength="28.9" lengthAdjust="spacingAndGlyphs" >78.82</text>
<path d="M1466 717.3H1507.0a2 2 0 0 1 2 2V731.8a2 2 0 0 1 -2 2H1466Z" fill="#ffeb3b"/>
<text x="1474.2" y="730.1" font-size="12" fill="#131722" font-weight="normal" text-anchor="start" textLength="28.9" lengthAdjust="spacingAndGlyphs" >64.60</text>
</g>
<text x="92.7" y="812.2" font-size="12" fill="#2a2e39" font-weight="normal" text-anchor="start" textLength="18.1" lengthAdjust="spacingAndGlyphs" >Oct</text>
<text x="228.0" y="812.2" font-size="12" fill="#2a2e39" font-weight="normal" text-anchor="start" textLength="20.0" lengthAdjust="spacingAndGlyphs" >Nov</text>
<text x="357.5" y="812.2" font-size="12" fill="#2a2e39" font-weight="normal" text-anchor="start" textLength="20.0" lengthAdjust="spacingAndGlyphs" >Dec</text>
<text x="477.0" y="812.2" font-size="12" fill="#131722" font-weight="bold" text-anchor="start" textLength="27.2" lengthAdjust="spacingAndGlyphs" >2024</text>
<text x="610.7" y="812.2" font-size="12" fill="#2a2e39" font-weight="normal" text-anchor="start" textLength="18.5" lengthAdjust="spacingAndGlyphs" >Feb</text>
<text x="733.3" y="812.2" font-size="12" fill="#2a2e39" font-weight="normal" text-anchor="start" textLength="20.0" lengthAdjust="spacingAndGlyphs" >Mar</text>
<text x="857.9" y="812.2" font-size="12" fill="#2a2e39" font-weight="normal" text-anchor="start" textLength="18.1" lengthAdjust="spacingAndGlyphs" >Apr</text>
<text x="991.9" y="812.2" font-size="12" fill="#2a2e39" font-weight="normal" text-anchor="start" textLength="20.8" lengthAdjust="spacingAndGlyphs" >May</text>
<text x="1129.1" y="812.2" font-size="12" fill="#2a2e39" font-weight="normal" text-anchor="start" textLength="18.1" lengthAdjust="spacingAndGlyphs" >Jun</text>
<text x="1247.7" y="812.2" font-size="12" fill="#2a2e39" font-weight="normal" text-anchor="start" textLength="15.4" lengthAdjust="spacingAndGlyphs" >Jul</text>
<text x="1381.3" y="812.2" font-size="12" fill="#2a2e39" font-weight="normal" text-anchor="start" textLength="19.0" lengthAdjust="spacingAndGlyphs" >Aug</text>
<g fill="#131722"><path d="M10.1 834.2h7.9v9.7h-4.1v-5.8h-3.8z"/><circle cx="20.9" cy="836.3" r="2.15"/><path d="M25.2 834.2H29.7L25.6 843.9H20.9z"/></g>
<text x="33.0" y="844.0" font-size="13.5" fill="#131722" font-weight="normal" text-anchor="start" textLength="70.3" lengthAdjust="spacingAndGlyphs" >TradingView</text>
<g filter="url(#ws)"><g opacity="1" font-family="'Liberation Sans', 'Noto Sans CJK SC', sans-serif" font-size="61.5" font-weight="bold" fill="#ffffff" stroke="#ffffff" stroke-width="1.35" stroke-linejoin="round"><text transform="translate(1294.0,814.2) scale(1,0.946) skewX(-14)" x="0" y="0">海</text><text transform="translate(1354.6,814.2) scale(1,0.946) skewX(-14)" x="0" y="0">马</text><text transform="translate(1415.2,814.2) scale(1,0.946) skewX(-14)" x="0" y="0">财</text><text transform="translate(1475.8,814.2) scale(1,0.946) skewX(-14)" x="0" y="0">经</text></g></g>
<text x="1381.3" y="812.2" font-size="12" fill="#2a2e39" font-weight="normal" text-anchor="start" textLength="19.0" lengthAdjust="spacingAndGlyphs" >Aug</text>
<text x="1474.2" y="770.8" font-size="12" fill="#50535e" font-weight="normal" text-anchor="start" textLength="29.0" lengthAdjust="spacingAndGlyphs" >40.00</text>
<g font-size="32" font-weight="bold" font-style="italic" fill="#7d748c" stroke="#7d748c" stroke-width="1.4" stroke-linejoin="round" opacity="0.75"><text transform="translate(1313.31,851.70) scale(1.060,0.874)">z</text><text transform="translate(1340.21,851.70) scale(1.060,0.874)">z</text><text transform="translate(1367.30,851.70) scale(1.060,0.874)">r</text><text transform="translate(1391.70,851.70) scale(1.031,0.892)">t</text><text transform="translate(1411.50,851.70) scale(1.050,0.920)">0</text><text transform="translate(1445.50,851.70) scale(0.831,0.902)">1</text><text transform="translate(1469.40,851.70) scale(1.337,1.104)">.</text><text transform="translate(1489.60,851.70) scale(0.945,0.892)">c</text><text transform="translate(1514.00,851.70) scale(1.136,0.874)">n</text></g>
<g font-size="32" font-weight="bold" font-style="italic" fill="#8fd0c8" stroke="#8fd0c8" stroke-width="1.4" stroke-linejoin="round" opacity="1"><text transform="translate(1312.01,850.40) scale(1.060,0.874)">z</text><text transform="translate(1338.91,850.40) scale(1.060,0.874)">z</text><text transform="translate(1366.00,850.40) scale(1.060,0.874)">r</text><text transform="translate(1390.40,850.40) scale(1.031,0.892)">t</text><text transform="translate(1410.20,850.40) scale(1.050,0.920)">0</text><text transform="translate(1444.20,850.40) scale(0.831,0.902)">1</text><text transform="translate(1468.10,850.40) scale(1.337,1.104)">.</text><text transform="translate(1488.30,850.40) scale(0.945,0.892)">c</text><text transform="translate(1512.70,850.40) scale(1.136,0.874)">n</text></g>
</svg>
</body></html>
